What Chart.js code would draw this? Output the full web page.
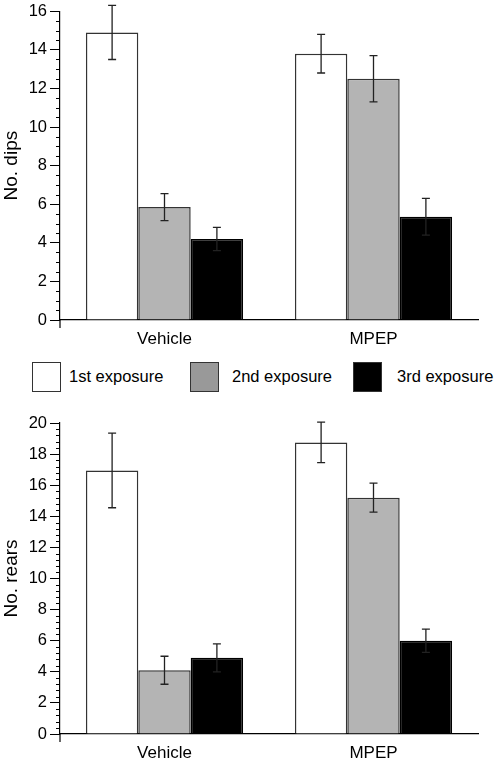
<!DOCTYPE html>
<html lang="en">
<head>
    <meta charset="UTF-8">
    <title>Dips and rears</title>
    <style>
        body { margin: 0; background: #fff; }
        #page { position: relative; width: 498px; height: 761px; font-family: "Liberation Sans", Arial, sans-serif; }
        .box { position: absolute; width: 29px; height: 30px; top: 362px; box-sizing: border-box; border: 1.5px solid #333; }
        .lbl { position: absolute; top: 366px; font-size: 16.5px; line-height: 20px; color: #000; }
        #top { position: absolute; left: 0; top: 0; width: 498px; height: 350px; }
        #bottom { position: absolute; left: 0; top: 395px; width: 498px; height: 366px; }
    </style>
</head>
<body>
<div id="page">
    <div id="top"><canvas id="dipsChart"></canvas></div>

    <!-- legend shared by both panels -->
    <div class="box" style="left:32px;background:#fff"></div>
    <div class="lbl" style="left:69px">1st exposure</div>
    <div class="box" style="left:190px;background:#999"></div>
    <div class="lbl" style="left:232px">2nd exposure</div>
    <div class="box" style="left:353px;background:#000"></div>
    <div class="lbl" style="left:397px">3rd exposure</div>

    <div id="bottom"><canvas id="rearsChart"></canvas></div>
</div>

<script src="https://cdn.jsdelivr.net/npm/chart.js@4.4.1/dist/chart.umd.min.js"></script>
<script>
const categories = ['Vehicle', 'MPEP'];
const seriesNames = ['1st exposure', '2nd exposure', '3rd exposure'];
const seriesFill = ['#ffffff', '#b4b4b4', '#000000'];
const seriesBorder = ['#333333', '#333333', '#000000'];

// No. dips (mean, s.e.m.)
const dipsFirst = [14.9, 13.8];
const dipsSecond = [5.85, 12.5];
const dipsThird = [4.2, 5.35];
const dipsFirstErr = [1.4, 1.0];
const dipsSecondErr = [0.7, 1.2];
const dipsThirdErr = [0.6, 0.95];

// No. rears (mean, s.e.m.)
const rearsFirst = [16.95, 18.75];
const rearsSecond = [4.1, 15.2];
const rearsThird = [4.9, 6.0];
const rearsFirstErr = [2.4, 1.3];
const rearsSecondErr = [0.9, 0.93];
const rearsThirdErr = [0.9, 0.75];

const FONT = '"Liberation Sans", Arial, sans-serif';

// error bars, minor ticks and the little stub of the y axis below zero
const extrasPlugin = {
    id: 'extras',
    afterDatasetsDraw(chart) {
        const ctx = chart.ctx;
        const y = chart.scales.y;
        ctx.save();
        ctx.strokeStyle = '#222';
        ctx.lineWidth = 1.3;
        chart.data.datasets.forEach((ds, i) => {
            const meta = chart.getDatasetMeta(i);
            meta.data.forEach((bar, j) => {
                const v = ds.data[j], e = ds.errors[j];
                const yt = y.getPixelForValue(v + e);
                const yb = y.getPixelForValue(v - e);
                ctx.beginPath();
                ctx.moveTo(bar.x, yt); ctx.lineTo(bar.x, yb);
                ctx.moveTo(bar.x - 4, yt); ctx.lineTo(bar.x + 4, yt);
                ctx.moveTo(bar.x - 4, yb); ctx.lineTo(bar.x + 4, yb);
                ctx.stroke();
            });
        });
        ctx.restore();
    },
    afterDraw(chart) {
        const ctx = chart.ctx;
        const y = chart.scales.y;
        const area = chart.chartArea;
        const minor = chart.options.minorStep;
        const major = y.options.ticks.stepSize;
        ctx.save();
        ctx.strokeStyle = '#000';
        ctx.lineWidth = 1;
        ctx.beginPath();
        for (let k = 0; k * minor <= y.max + 1e-9; k++) {
            const v = k * minor;
            if (Math.abs(v / major - Math.round(v / major)) < 1e-6) continue;
            const py = Math.round(y.getPixelForValue(v)) + 0.5;
            ctx.moveTo(area.left - 4, py); ctx.lineTo(area.left, py);
        }
        ctx.stroke();
        ctx.lineWidth = 1.2;
        ctx.beginPath();
        ctx.moveTo(area.left, area.bottom);
        ctx.lineTo(area.left, area.bottom + 8);
        ctx.stroke();
        ctx.restore();
    }
};

function makeChart(id, title, means, errs, yMax, minorStep, padTop, xHeight) {
    const datasets = seriesNames.map((name, i) => ({
        label: name,
        data: means[i],
        errors: errs[i],
        backgroundColor: seriesFill[i],
        borderColor: seriesBorder[i],
        borderWidth: 1.5,
        barPercentage: 1,
        categoryPercentage: 0.752
    }));
    return new Chart(document.getElementById(id), {
        type: 'bar',
        data: { labels: categories, datasets },
        plugins: [extrasPlugin],
        options: {
            responsive: true,
            maintainAspectRatio: false,
            animation: false,
            minorStep: minorStep,
            layout: { padding: { top: padTop, right: 20, left: 0, bottom: 0 } },
            plugins: { legend: { display: false }, tooltip: { enabled: false } },
            scales: {
                x: {
                    offset: true,
                    grid: { display: true, drawOnChartArea: false, drawTicks: false },
                    border: { display: true, color: '#000', width: 1.2 },
                    ticks: { color: '#000', padding: 9, font: { family: FONT, size: 17 } },
                    afterFit: s => { s.height = xHeight; }
                },
                y: {
                    min: 0,
                    max: yMax,
                    grid: { display: true, drawOnChartArea: false, drawTicks: true, tickLength: 10, tickColor: '#000', tickWidth: 1 },
                    border: { display: true, color: '#000', width: 1.2 },
                    ticks: { stepSize: 2, color: '#000', padding: 3, font: { family: FONT, size: 16.5, lineHeight: 1 } },
                    title: { display: true, text: title, color: '#000', padding: 0, font: { family: FONT, size: 19 } },
                    afterFit: s => { s.width = 60; }
                }
            }
        }
    });
}

makeChart('dipsChart', 'No. dips',
    [dipsFirst, dipsSecond, dipsThird],
    [dipsFirstErr, dipsSecondErr, dipsThirdErr],
    16, 0.5, 9, 30);

makeChart('rearsChart', 'No. rears',
    [rearsFirst, rearsSecond, rearsThird],
    [rearsFirstErr, rearsSecondErr, rearsThirdErr],
    20, 0.4, 28, 27);
</script>
</body>
</html>
